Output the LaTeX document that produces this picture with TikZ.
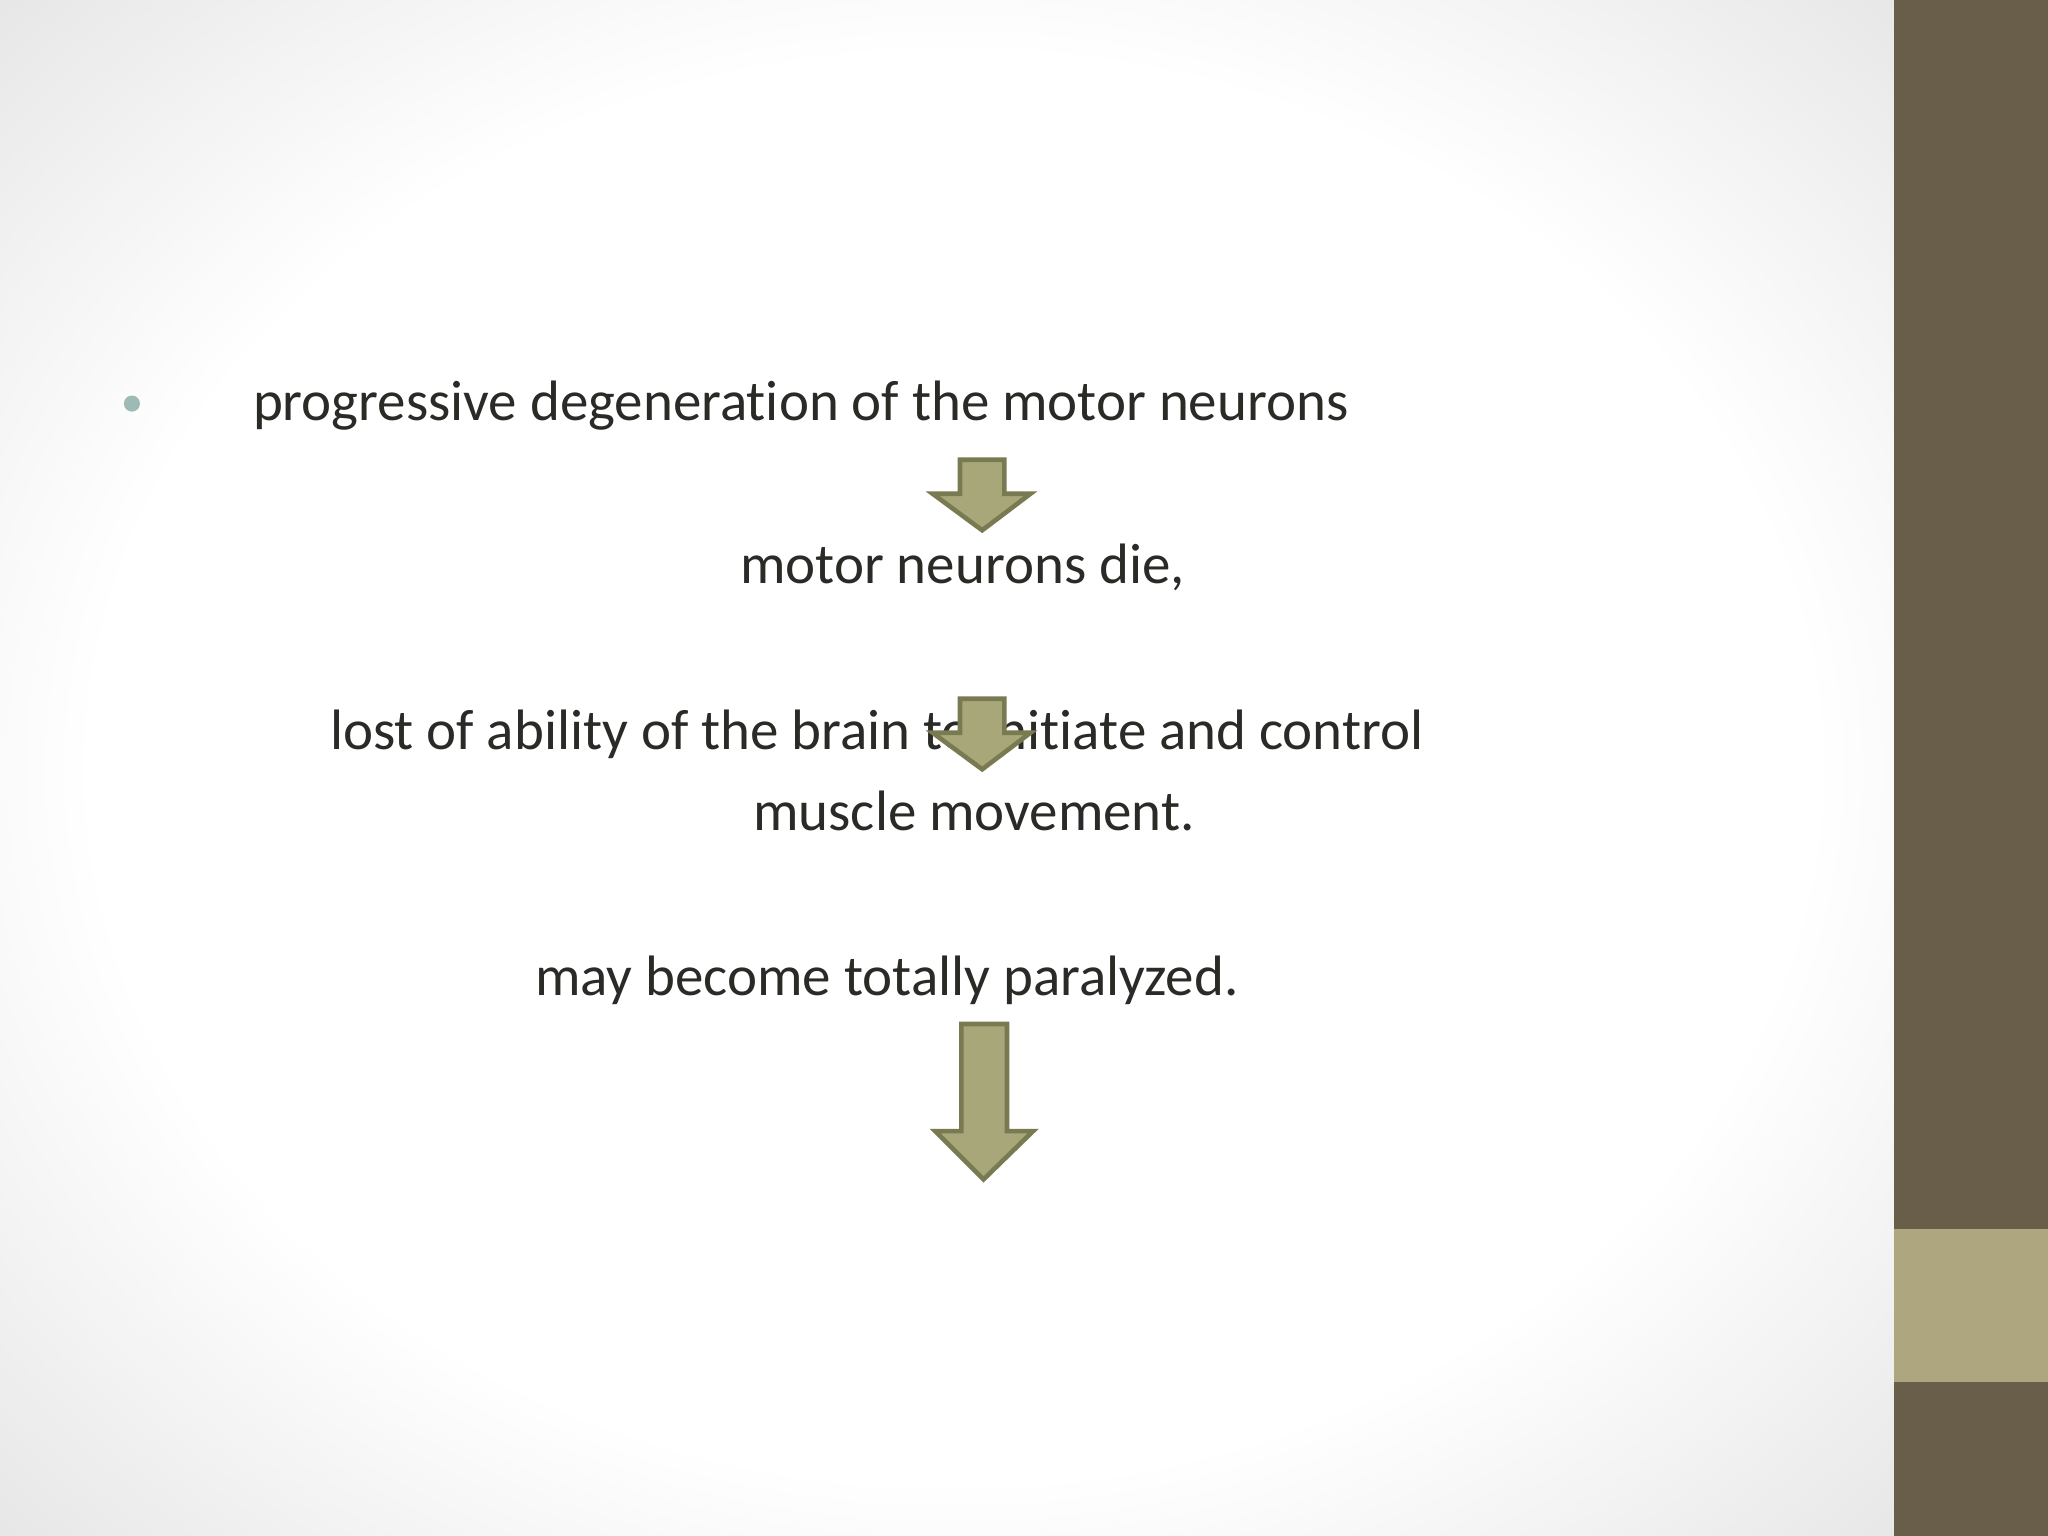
\documentclass[tikz,border=0pt]{standalone}
\usepackage{fontspec}
\setmainfont[Ligatures=NoCommon]{Carlito}
\definecolor{txt}{HTML}{2A2A26}
\definecolor{arrfill}{HTML}{A8A77A}
\definecolor{arrdraw}{HTML}{7A7A52}
\definecolor{bardark}{HTML}{695E4A}
\definecolor{barlight}{HTML}{ADA67F}
\definecolor{bul}{HTML}{9DBAB5}
\pgfdeclareradialshading{bgshade}{\pgfpoint{0cm}{0cm}}{color(0cm)=(white); color(0.7cm)=(white); color(1.1cm)=(black!10); color(1.4cm)=(black!12)}
\tikzset{lbl/.style={anchor=base west,inner sep=0pt,text=txt,font=\fontsize{12.4pt}{14pt}\selectfont},
 arr/.style={fill=arrfill,draw=arrdraw,line width=1pt,line join=miter}}
\begin{document}
\begin{tikzpicture}[x=0.01cm,y=-0.01cm]
\useasboundingbox (0,0) rectangle (1568,1176);
\shade[shading=bgshade] (-100,-100) rectangle (1560,1276);
\fill[bardark] (1450,0) rectangle (1568,1176);
\fill[barlight] (1450,941) rectangle (1568,1058);
\node[circle,fill=bul,inner sep=0pt,minimum size=3.5pt] (b) at (101,309) {};
\node[lbl] (t1) at (193,322) {progressive degeneration of the motor neurons};
\node[lbl] (t2) at (566,447) {motor neurons die,};
\node[lbl] (t3) at (252,574) {lost of ability of the brain to initiate and control};
\node[lbl] (t4) at (576,636) {muscle movement.};
\node[lbl] (t5) at (409,762) {may become totally paralyzed.};
\draw[arr] (735,352) -- (769,352) -- (769,378) -- (789,378) -- (752,406) -- (714,378) -- (735,378) -- cycle;
\draw[arr] (735,535) -- (769,535) -- (769,561) -- (789,561) -- (752,589) -- (714,561) -- (735,561) -- cycle;
\draw[arr] (736,784) -- (771,784) -- (771,866) -- (791,866) -- (753,903) -- (716,866) -- (736,866) -- cycle;
\end{tikzpicture}
\end{document}
